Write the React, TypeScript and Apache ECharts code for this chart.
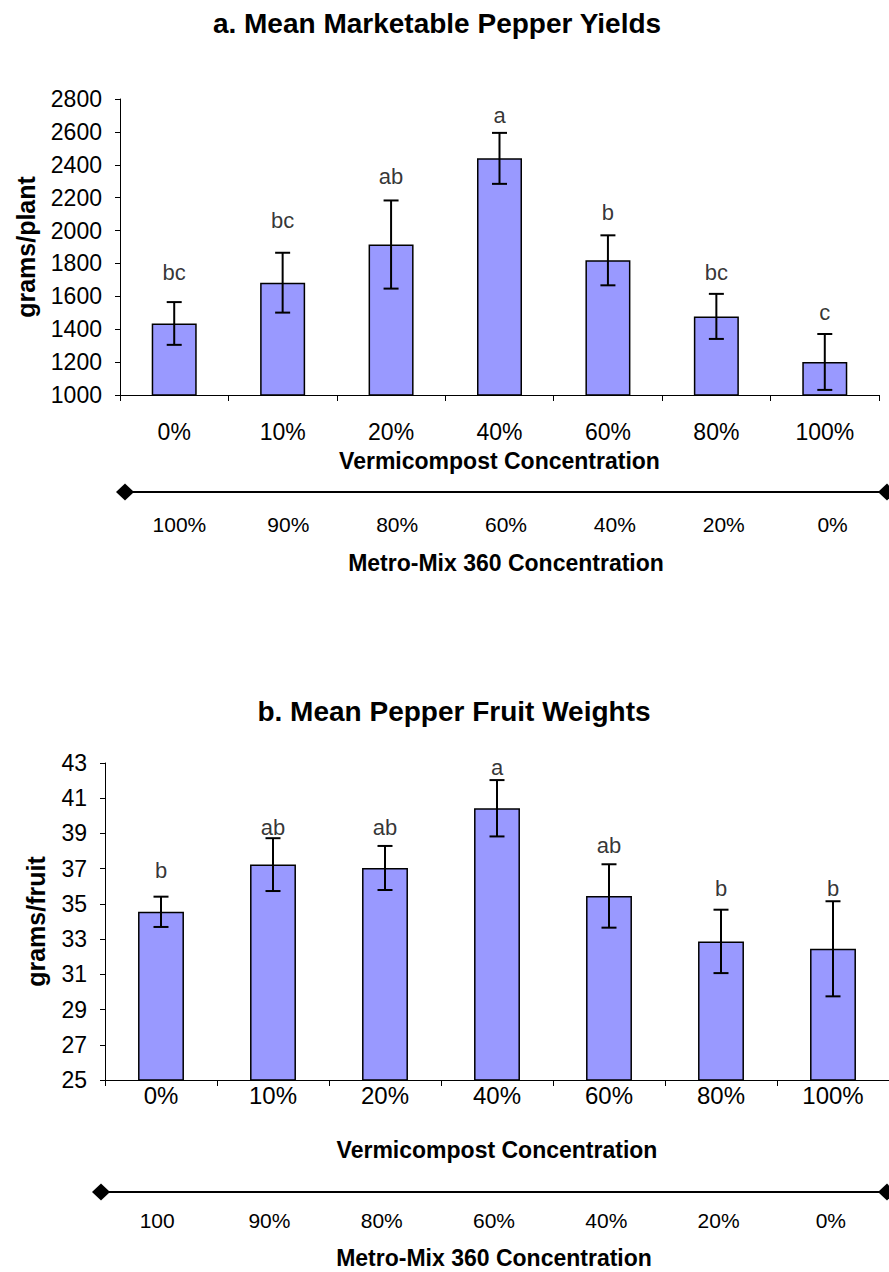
import React, { useEffect, useRef } from "react";
import * as echarts from "echarts";

const vermiCats = ["0%", "10%", "20%", "40%", "60%", "80%", "100%"];
const metroCatsA = ["100%", "90%", "80%", "60%", "40%", "20%", "0%"];
const metroCatsB = ["100", "90%", "80%", "60%", "40%", "20%", "0%"];

const yieldMeans = [1435, 1683, 1915, 2439, 1819, 1478, 1201];
const yieldErr = [130, 182, 268, 155, 152, 137, 170];
const yieldLetters = ["bc", "bc", "ab", "a", "b", "bc", "c"];
const yieldLetterPos = [1742, 2064, 2326, 2697, 2107, 1742, 1499];

const weightMeans = [34.55, 37.23, 37.04, 40.43, 35.45, 32.87, 32.45];
const weightErr = [0.86, 1.5, 1.25, 1.6, 1.8, 1.8, 2.7];
const weightLetters = ["b", "ab", "ab", "a", "ab", "b", "b"];
const weightLetterPos = [36.87, 39.33, 39.33, 42.77, 38.33, 35.87, 35.87];

const FONT = "'Liberation Sans', Arial, sans-serif";

function errRender(params: any, api: any) {
  const x = api.value(0);
  const lo = api.coord([x, api.value(1)]);
  const hi = api.coord([x, api.value(2)]);
  const hw = 7.5;
  const style = { stroke: "#000", lineWidth: 2 };
  return {
    type: "group",
    children: [
      { type: "line", shape: { x1: hi[0], y1: hi[1], x2: lo[0], y2: lo[1] }, style },
      { type: "line", shape: { x1: hi[0] - hw, y1: hi[1], x2: hi[0] + hw, y2: hi[1] }, style },
      { type: "line", shape: { x1: lo[0] - hw, y1: lo[1], x2: lo[0] + hw, y2: lo[1] }, style },
    ],
  };
}

function catAxis(grid: number, data: string[], labelSize: number, margin: number, name: string, nameGap: number) {
  return {
    type: "category",
    gridIndex: grid,
    data,
    axisLine: { show: true, lineStyle: { color: "#000", width: 1 } },
    axisTick: { show: true, length: 6, lineStyle: { color: "#000" } },
    axisLabel: { fontSize: labelSize, color: "#000", fontFamily: FONT, margin },
    name,
    nameLocation: "middle",
    nameGap,
    nameTextStyle: { fontSize: 23, fontWeight: "bold", color: "#000", fontFamily: FONT },
  };
}

function metroAxis(grid: number, data: string[], margin: number, nameGap: number) {
  return {
    type: "category",
    gridIndex: grid,
    data,
    axisLine: {
      show: true,
      symbol: ["diamond", "diamond"],
      symbolSize: [17, 18],
      lineStyle: { color: "#000", width: 2 },
    },
    axisTick: { show: false },
    axisLabel: { fontSize: 21, color: "#000", fontFamily: FONT, margin },
    name: "Metro-Mix 360 Concentration",
    nameLocation: "middle",
    nameGap,
    nameTextStyle: { fontSize: 23, fontWeight: "bold", color: "#000", fontFamily: FONT },
  };
}

function valAxis(grid: number, min: number, max: number, interval: number, name: string, nameGap: number) {
  return {
    type: "value",
    gridIndex: grid,
    min,
    max,
    interval,
    splitLine: { show: false },
    axisLine: { show: true, lineStyle: { color: "#000", width: 1 } },
    axisTick: { show: true, length: 5, lineStyle: { color: "#000" } },
    axisLabel: {
      fontSize: 23,
      color: "#000",
      fontFamily: FONT,
      margin: 18,
      formatter: (v: number) => String(v),
    },
    name,
    nameLocation: "middle",
    nameGap,
    nameTextStyle: { fontSize: 25, fontWeight: "bold", color: "#000", fontFamily: FONT },
  };
}

export default function App() {
  const ref = useRef<HTMLDivElement>(null);
  useEffect(() => {
    document.body.style.margin = "0";
    const chart = echarts.init(ref.current!, undefined, { renderer: "svg" });
    const barStyle = { color: "#9999FF", borderColor: "#000", borderWidth: 1.5 };
    const letterLabel = {
      show: true,
      position: "inside",
      formatter: (p: any) => p.data[2],
      fontSize: 22,
      color: "#000",
      textBorderWidth: 0,
      textBorderColor: "transparent",
      fontFamily: FONT,
    };
    const option: any = {
      animation: false,
      backgroundColor: "#fff",
      graphic: [
        {
          type: "text",
          x: 437,
          y: 23,
          style: {
            text: "a. Mean Marketable Pepper Yields",
            textAlign: "center",
            textVerticalAlign: "middle",
            font: `bold 28px ${FONT}`,
            fill: "#000",
          },
        },
        {
          type: "text",
          x: 454,
          y: 711,
          style: {
            text: "b. Mean Pepper Fruit Weights",
            textAlign: "center",
            textVerticalAlign: "middle",
            font: `bold 28px ${FONT}`,
            fill: "#000",
          },
        },
      ],
      grid: [
        { left: 120, right: 10, top: 99, height: 296 },
        { left: 125, right: 2, top: 491, height: 1 },
        { left: 105, right: 0, top: 763, height: 317 },
        { left: 101, right: 2, top: 1191, height: 1 },
      ],
      xAxis: [
        catAxis(0, vermiCats, 23, 25, "Vermicompost Concentration", 54),
        metroAxis(1, metroCatsA, 22, 59),
        catAxis(2, vermiCats, 24, 3, "Vermicompost Concentration", 58),
        metroAxis(3, metroCatsB, 18, 54),
      ],
      yAxis: [
        valAxis(0, 1000, 2800, 200, "grams/plant", 82),
        { type: "value", gridIndex: 1, show: false },
        valAxis(2, 25, 43, 2, "grams/fruit", 57),
        { type: "value", gridIndex: 3, show: false },
      ],
      series: [
        {
          type: "bar",
          xAxisIndex: 0,
          yAxisIndex: 0,
          data: yieldMeans,
          barWidth: "41.5%",
          itemStyle: barStyle,
        },
        {
          type: "custom",
          xAxisIndex: 0,
          yAxisIndex: 0,
          renderItem: errRender,
          encode: { x: 0, y: [1, 2] },
          data: yieldMeans.map((m, i) => [i, m - yieldErr[i], m + yieldErr[i]]),
          z: 5,
        },
        {
          type: "scatter",
          xAxisIndex: 0,
          yAxisIndex: 0,
          symbolSize: 1,
          itemStyle: { color: "rgba(0,0,0,0)" },
          label: letterLabel,
          data: yieldLetters.map((l, i) => [i, yieldLetterPos[i], l]),
        },
        {
          type: "bar",
          xAxisIndex: 2,
          yAxisIndex: 2,
          data: weightMeans,
          barWidth: "41%",
          itemStyle: barStyle,
        },
        {
          type: "custom",
          xAxisIndex: 2,
          yAxisIndex: 2,
          renderItem: errRender,
          encode: { x: 0, y: [1, 2] },
          data: weightMeans.map((m, i) => [i, m - weightErr[i], m + weightErr[i]]),
          z: 5,
        },
        {
          type: "scatter",
          xAxisIndex: 2,
          yAxisIndex: 2,
          symbolSize: 1,
          itemStyle: { color: "rgba(0,0,0,0)" },
          label: letterLabel,
          data: weightLetters.map((l, i) => [i, weightLetterPos[i], l]),
        },
      ],
    };
    chart.setOption(option);
    return () => chart.dispose();
  }, []);
  return <div ref={ref} style={{ width: 889, height: 1272 }} />;
}
